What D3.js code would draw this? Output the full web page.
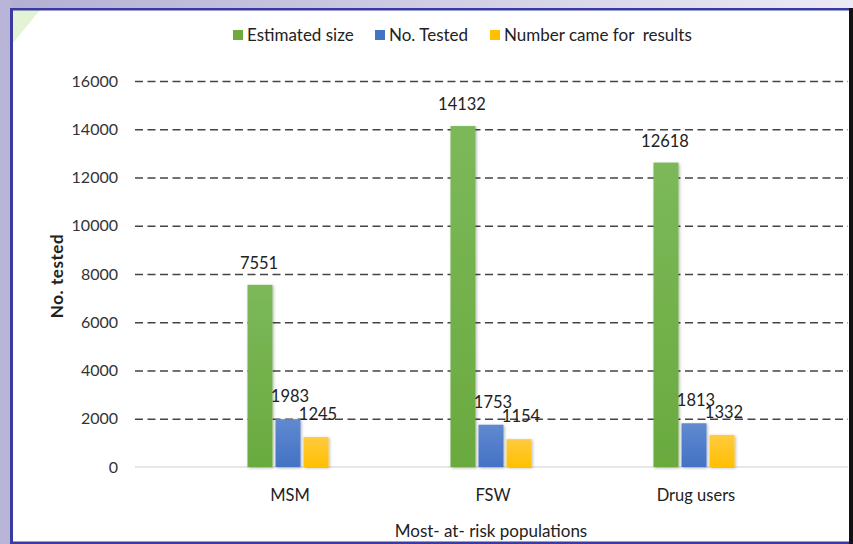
<!DOCTYPE html>
<html>
<head>
<meta charset="utf-8">
<script src="https://cdn.jsdelivr.net/npm/d3@7"></script>
<style>
  html, body { margin: 0; padding: 0; background: #fff; }
  svg { display: block; }
  text { font-family: Lato, "Open Sans", sans-serif; fill: #222; white-space: pre; }
</style>
</head>
<body>
<svg id="chart" width="853" height="544"></svg>
<script>
const categories = ["MSM", "FSW", "Drug users"];
const seriesNames = ["Estimated size", "No. Tested", "Number came for  results"];
const estimatedSize = [7551, 14132, 12618];
const noTested = [1983, 1753, 1813];
const cameForResults = [1245, 1154, 1332];
const yTicks = [0, 2000, 4000, 6000, 8000, 10000, 12000, 14000, 16000];
const colors = ["#6aaa3e", "#4472c4", "#ffc000"];
const topColors = ["#7cb85a", "#6089d0", "#ffcb40"];

const series = [estimatedSize, noTested, cameForResults];
const svg = d3.select("#chart");

// Background / frame
const bg = svg.append("defs");
const bgGrad = bg.append("linearGradient").attr("id", "bgTop").attr("x1", 0).attr("x2", 1).attr("y1", 0).attr("y2", 0);
bgGrad.append("stop").attr("offset", "0%").attr("stop-color", "#b3afd3");
bgGrad.append("stop").attr("offset", "100%").attr("stop-color", "#eceaf5");
svg.append("rect").attr("x", 0).attr("y", 0).attr("width", 853).attr("height", 544).attr("fill", "url(#bgTop)");
svg.append("rect").attr("x", 0).attr("y", 0).attr("width", 11).attr("height", 544).attr("fill", "#b8b5d8");
svg.append("rect").attr("x", 11).attr("y", 8).attr("width", 838).attr("height", 535).attr("fill", "#ffffff");
svg.append("path").attr("d", "M13,10 L40,10 L13,43 Z").attr("fill", "#e3f3d3");
svg.append("rect").attr("x", 10).attr("y", 8).attr("width", 3).attr("height", 536).attr("fill", "#3a3aa0");
svg.append("rect").attr("x", 10).attr("y", 8).attr("width", 840).attr("height", 2.5).attr("fill", "#3a3aa0");
svg.append("rect").attr("x", 10).attr("y", 541.5).attr("width", 843).attr("height", 2.5).attr("fill", "#3a3aa0");
svg.append("rect").attr("x", 849).attr("y", 8).attr("width", 4).attr("height", 536).attr("fill", "#111");

// Gradients for bars
const defs = svg.append("defs");
colors.forEach((c, i) => {
  const g = defs.append("linearGradient").attr("id", "bar" + i).attr("x1", 0).attr("x2", 0).attr("y1", 0).attr("y2", 1);
  g.append("stop").attr("offset", "0%").attr("stop-color", topColors[i]);
  g.append("stop").attr("offset", "100%").attr("stop-color", colors[i]);
});
const f = defs.append("filter").attr("id", "shadow").attr("x", "-30%").attr("y", "-10%").attr("width", "160%").attr("height", "130%");
f.append("feDropShadow").attr("dx", 1).attr("dy", 1).attr("stdDeviation", 1.5).attr("flood-color", "#000").attr("flood-opacity", 0.3);

const y = d3.scaleLinear().domain([0, 16000]).range([467, 81]);
const x0 = d3.scaleBand().domain(categories).range([187.5, 796.5]).paddingInner(0).paddingOuter(0);
const x1 = d3.scaleBand().domain(d3.range(3)).range([-41.5, 39.5]).paddingInner(0.107);

// Gridlines
const gridLeft = 135, gridRight = 848;
const grid = svg.append("g").attr("transform", `translate(${gridLeft},0)`)
  .call(d3.axisLeft(y).tickValues(yTicks.filter(d => d > 0)).tickSize(-(gridRight - gridLeft)).tickFormat(""));
grid.select(".domain").remove();
grid.selectAll(".tick line").attr("stroke", "#444").attr("stroke-width", 1.6).attr("stroke-dasharray", "8,4.5");

// Baseline
svg.append("line").attr("x1", gridLeft).attr("x2", gridRight).attr("y1", y(0)).attr("y2", y(0))
  .attr("stroke", "#d0d0d0").attr("stroke-width", 1.2);

// Y axis labels
const yAxis = svg.append("g").attr("transform", "translate(118,0)")
  .call(d3.axisLeft(y).tickValues(yTicks).tickSize(0).tickPadding(0).tickFormat(d3.format("d")));
yAxis.select(".domain").remove();
yAxis.selectAll("text").attr("font-size", 16).attr("font-family", "Lato, sans-serif").style("fill", "#333");

// Bars
const groups = svg.append("g").selectAll("g").data(categories).join("g")
  .attr("transform", d => `translate(${x0(d) + x0.bandwidth() / 2},0)`);
groups.each(function(cat, ci) {
  const g = d3.select(this);
  series.forEach((s, si) => {
    g.append("rect")
      .attr("x", x1(si)).attr("width", x1.bandwidth())
      .attr("y", y(s[ci])).attr("height", y(0) - y(s[ci]))
      .attr("fill", `url(#bar${si})`).attr("filter", "url(#shadow)");
  });
  series.forEach((s, si) => {
    g.append("text")
      .attr("x", x1(si) + x1.bandwidth() / 2 + (si === 0 ? -1 : 2))
      .attr("y", y(s[ci]) - (si === 0 ? 16 : 17))
      .attr("text-anchor", "middle").attr("font-size", 16.5)
      .text(s[ci]);
  });
});

// Category labels
svg.append("g").selectAll("text").data(categories).join("text")
  .attr("x", d => x0(d) + x0.bandwidth() / 2 + 1).attr("y", 501)
  .attr("text-anchor", "middle").attr("font-size", 16.5).text(d => d);

// Axis titles
svg.append("text").attr("x", 491).attr("y", 537).attr("text-anchor", "middle").attr("font-size", 17)
  .text("Most- at- risk populations");
svg.append("text").attr("transform", "translate(63,276) rotate(-90)").attr("text-anchor", "middle")
  .attr("font-size", 17).attr("font-weight", "bold").attr("letter-spacing", 0.6).text("No. tested");

// Legend
const legendX = [233, 375, 490];
const lg = svg.append("g").selectAll("g").data(seriesNames).join("g")
  .attr("transform", (d, i) => `translate(${legendX[i]},29)`);
lg.append("rect").attr("width", 10).attr("height", 10).attr("y", 1).attr("fill", (d, i) => colors[i]);
lg.append("text").attr("x", 14).attr("y", 12).attr("font-size", 17).text(d => d);
</script>
</body>
</html>
